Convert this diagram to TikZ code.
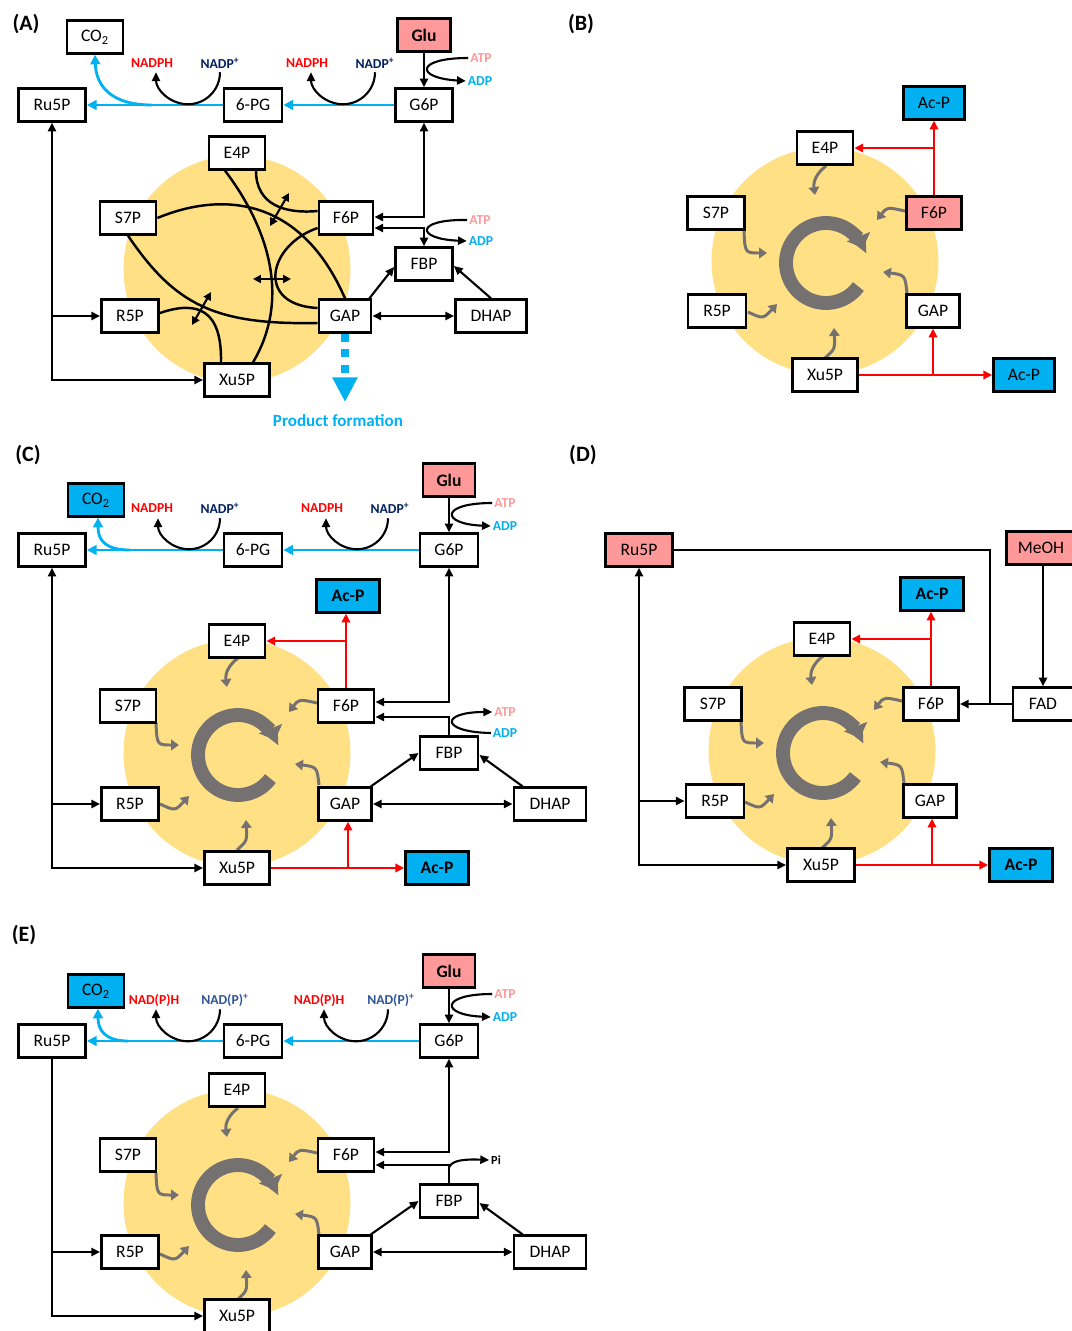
\documentclass[tikz,border=0pt]{standalone}
\usepackage{fontspec}
\setmainfont{Carlito}
\usetikzlibrary{arrows.meta, calc}

\definecolor{pinkbox}{HTML}{FF9999}
\definecolor{bluebox}{HTML}{00B0F0}
\definecolor{cycyellow}{HTML}{FFE085}
\definecolor{cycgray}{HTML}{767171}
\definecolor{navy}{HTML}{002060}
\definecolor{midblue}{HTML}{2F5597}

\tikzset{
  met/.style={draw, line width=1.6pt, fill=white, inner sep=0pt, minimum height=18.5pt,
    font=\fontsize{10}{11}\selectfont},
  bw/.style={minimum width=#1*0.02cm},
  bold/.style={font=\fontsize{10}{11}\selectfont\bfseries},
  src/.style={met, fill=pinkbox},
  prd/.style={met, fill=bluebox},
  arr/.style={-{Triangle[length=5pt,width=4.6pt]}},
  conn/.style={line width=1.2pt, arr},
  dconn/.style={line width=1.2pt, {Triangle[length=5pt,width=4.6pt]}-{Triangle[length=5pt,width=4.6pt]}},
  oxconn/.style={line width=1.6pt, bluebox, -{Triangle[length=5.5pt,width=5.5pt]}},
  rconn/.style={line width=1.3pt, red, -{Triangle[length=5pt,width=4.8pt]}},
  rx/.style={line width=1.4pt},
  dsmall/.style={line width=1.2pt, {Triangle[length=4.5pt,width=4.5pt]}-{Triangle[length=4.5pt,width=4.5pt]}},
  cof/.style={font=\fontsize{7.8}{9}\selectfont\bfseries, inner sep=1pt},
  panel/.style={font=\fontsize{12.5}{14}\selectfont\bfseries},
  prodlbl/.style={font=\fontsize{9.7}{11}\selectfont\bfseries, text=bluebox},
  prod/.style={line width=5pt, bluebox, dash pattern=on 4.5pt off 4.5pt,
    -{Triangle[length=14pt,width=13.5pt]}},
  feed/.style={line width=1.7pt, cycgray, -{Triangle[length=4.5pt,width=6pt]}},
  ring/.style={line width=7.9pt, cycgray, -{Triangle[length=7pt,width=14pt]}},
}

\begin{document}
\begin{tikzpicture}[x=0.02cm, y=-0.02cm]
\fill[white] (0,0) rectangle (1071,1331);
\useasboundingbox (0,0) rectangle (1071,1331);

% yellow cycles
\fill[cycyellow] (237,269) circle[radius=113.5];
\foreach \cx/\cy in {825/261, 237/753, 822/751, 237/1203} {
  \begin{scope}[shift={(\cx,\cy)}]
    \fill[cycyellow] (0,0) circle[radius=113.5];
    \draw[ring] (1,2) ++(36:40) arc[start angle=36, end angle=338, radius=40];
    \draw[feed] (1,-95) .. controls (-8,-88) and (-12,-80) .. (-10,-66);
    \draw[feed] (-81,-30) .. controls (-80,-8) .. (-58,-8);
    \draw[feed] (-77,51) .. controls (-62,58) .. (-48,43);
    \draw[feed] (0,97) .. controls (10,88) .. (9,67);
    \draw[feed] (82,32) .. controls (80,14) .. (58,11);
    \draw[feed] (80,-50) .. controls (62,-54) .. (52,-41);
  \end{scope}
}

% ===== Panel A =====
\node[panel] (A-lbl) at (26,24) {(A)};
\node[met, bw=56] (A-CO2) at (95,37) {CO\textsubscript{2}};
\node[src, bold, bw=53] (A-Glu) at (424,35) {Glu};
\node[met, bw=67] (A-Ru5P) at (52,105) {Ru5P};
\node[met, bw=58] (A-6PG) at (253,105) {6-PG};
\node[met, bw=57] (A-G6P) at (424,105) {G6P};
\node[met, bw=56] (A-E4P) at (237,153) {E4P};
\node[met, bw=56] (A-S7P) at (128,218) {S7P};
\node[met, bw=54] (A-F6P) at (346,218) {F6P};
\node[met, bw=57] (A-FBP) at (424,264) {FBP};
\node[met, bw=57] (A-R5P) at (130,316) {R5P};
\node[met, bw=52] (A-GAP) at (345,316) {GAP};
\node[met, bw=71] (A-DHAP) at (491,316) {DHAP};
\node[met, bw=65] (A-Xu5P) at (237,380) {Xu5P};
\node[cof, red] (A-nh1) at (152,63) {NADPH};
\node[cof, navy] (A-np1) at (220,63) {NADP\textsuperscript{+}};
\node[cof, red] (A-nh2) at (307,63) {NADPH};
\node[cof, navy] (A-np2) at (375,63) {NADP\textsuperscript{+}};
\node[cof, pinkbox] (A-atp1) at (481,58) {ATP};
\node[cof, bluebox] (A-adp1) at (480,81) {ADP};
\node[cof, pinkbox] (A-atp2) at (480,220) {ATP};
\node[cof, bluebox] (A-adp2) at (481,241) {ADP};
\node[prodlbl] (A-prod) at (338,421) {Product formation};
\coordinate (A-ox) at (152,105);
\coordinate (A-ptip) at (345,402);

% oxidative branch
\draw[oxconn] (A-G6P) -- (A-6PG);
\draw[oxconn] (A-6PG) -- (A-Ru5P);
\draw[oxconn] (A-ox) .. controls (110,105) and (96,85) .. (A-CO2.south);
\draw[conn] ($(A-np1.south)+(0,2)$) arc[start angle=0, end angle=180, radius=32];
\draw[conn] ($(A-np2.south)+(0,2)$) arc[start angle=0, end angle=180, radius=32];
\draw[conn] (A-Glu) -- (A-G6P);
\draw[conn] (A-atp1.west) .. controls (415,58) and (415,78) .. (A-adp1.west);

% glycolytic side
\draw[dconn] (A-G6P.south) |- ($(A-F6P.east)+(0,-1)$);
\draw[dconn] ($(A-F6P.east)+(0,10)$) -| (A-FBP.north);
\draw[conn] (A-atp2.west) .. controls (415,219) and (415,239) .. (A-adp2.west);
\draw[conn] ($(A-GAP.north east)+(-3,0)$) -- ($(A-FBP.west)+(0,3)$);
\draw[conn] (A-DHAP.north) -- ($(A-FBP.east)+(0,2)$);
\draw[dconn] (A-GAP) -- (A-DHAP);
\draw[dconn] (A-Ru5P.south) |- (A-Xu5P.west);
\draw[conn] (A-Ru5P.south |- A-R5P.west) -- (A-R5P.west);
\draw[prod] (A-GAP.south) -- (A-ptip);

% non-oxidative exchanges
\draw[rx] (A-S7P.east) .. controls (220,192) and (300,195) .. (A-GAP.north);
\draw[rx] (A-S7P.south) .. controls (175,305) and (215,325) .. ($(A-GAP.west)+(0,7)$);
\draw[rx] ($(A-R5P.east)+(0,-3)$) .. controls (198,300) and (222,310) .. ($(A-Xu5P.north)+(-16,0)$);
\draw[rx] ($(A-E4P.south)+(-12,0)$) .. controls (270,230) and (290,300) .. ($(A-Xu5P.north)+(16,0)$);
\draw[rx] ($(A-E4P.south)+(19,0)$) .. controls (256,205) and (285,214) .. ($(A-F6P.west)+(0,-7)$);
\draw[rx] ($(A-F6P.west)+(0,10)$) .. controls (268,245) and (255,305) .. ($(A-GAP.west)+(0,-8)$);
\draw[dsmall] (270,226) -- (289,193);
\draw[dsmall] (253,279) -- (291,279);
\draw[dsmall] (192,325) -- (211,292);

% ===== Panel B =====
\node[panel] (B-lbl) at (581,24) {(B)};
\node[prd, bw=61] (B-AcP1) at (934,103) {Ac-P};
\node[met, bw=56] (B-E4P) at (825,148) {E4P};
\node[met, bw=57] (B-S7P) at (716,213) {S7P};
\node[src, bw=55] (B-F6P) at (934,213) {F6P};
\node[met, bw=58] (B-R5P) at (717,311) {R5P};
\node[met, bw=53] (B-GAP) at (933,311) {GAP};
\node[met, bw=65] (B-Xu5P) at (825,375) {Xu5P};
\node[prd, bw=61] (B-AcP2) at (1024,375) {Ac-P};
\draw[rconn] (B-F6P) -- (B-AcP1);
\draw[rconn] (B-F6P.north |- B-E4P.east) -- (B-E4P.east);
\draw[rconn] (B-Xu5P) -- (B-AcP2);
\draw[rconn] (B-GAP.south |- B-Xu5P.east) -- (B-GAP.south);

% ===== Panel C =====
\node[panel] (C-lbl) at (28,455) {(C)};
\node[prd, bw=56] (C-CO2) at (96,500) {CO\textsubscript{2}};
\node[src, bold, bw=52] (C-Glu) at (449,480) {Glu};
\node[met, bw=67] (C-Ru5P) at (52,550) {Ru5P};
\node[met, bw=58] (C-6PG) at (253,550) {6-PG};
\node[met, bw=58] (C-G6P) at (449,550) {G6P};
\node[prd, bold, bw=63] (C-AcP1) at (348,596) {Ac-P};
\node[met, bw=56] (C-E4P) at (237,641) {E4P};
\node[met, bw=56] (C-S7P) at (128,706) {S7P};
\node[met, bw=56] (C-F6P) at (346,706) {F6P};
\node[met, bw=58] (C-FBP) at (449,753) {FBP};
\node[met, bw=57] (C-R5P) at (130,804) {R5P};
\node[met, bw=53] (C-GAP) at (345,804) {GAP};
\node[met, bw=72] (C-DHAP) at (550,804) {DHAP};
\node[met, bw=65] (C-Xu5P) at (237,868) {Xu5P};
\node[prd, bold, bw=63] (C-AcP2) at (437,868) {Ac-P};
\node[cof, red] (C-nh1) at (152,508) {NADPH};
\node[cof, navy] (C-np1) at (220,508) {NADP\textsuperscript{+}};
\node[cof, red] (C-nh2) at (322,508) {NADPH};
\node[cof, navy] (C-np2) at (390,508) {NADP\textsuperscript{+}};
\node[cof, pinkbox] (C-atp1) at (505,503) {ATP};
\node[cof, bluebox] (C-adp1) at (505,526) {ADP};
\node[cof, pinkbox] (C-atp2) at (505,712) {ATP};
\node[cof, bluebox] (C-adp2) at (505,733) {ADP};
\coordinate (C-ox) at (130,550);

\draw[oxconn] (C-G6P) -- (C-6PG);
\draw[oxconn] (C-6PG) -- (C-Ru5P);
\draw[oxconn] (C-ox) .. controls (105,550) and (98,540) .. ($(C-CO2.south)+(2,0)$);
\draw[conn] ($(C-np1.south)+(0,3)$) arc[start angle=0, end angle=180, radius=31];
\draw[conn] ($(C-np2.south)+(-2,3)$) arc[start angle=0, end angle=180, radius=31];
\draw[conn] (C-Glu) -- (C-G6P);
\draw[conn] (C-atp1.west) .. controls (440,503) and (440,524) .. (C-adp1.west);
\draw[dconn] (C-G6P.south) |- ($(C-F6P.east)+(0,-4)$);
\draw[conn] (C-FBP.north) |- ($(C-F6P.east)+(0,11)$);
\draw[conn] (C-adp2.west) .. controls (440,732) and (440,712) .. (C-atp2.west);
\draw[conn] ($(C-GAP.north east)+(-2,0)$) -- (C-FBP.west);
\draw[conn] ($(C-DHAP.north west)+(10,0)$) -- ($(C-FBP.east)+(0,2)$);
\draw[dconn] (C-GAP) -- (C-DHAP);
\draw[dconn] (C-Ru5P.south) |- (C-Xu5P.west);
\draw[conn] (C-Ru5P.south |- C-R5P.west) -- (C-R5P.west);
\draw[rconn] (C-F6P.north) -- (C-F6P.north |- C-AcP1.south);
\draw[rconn] (C-F6P.north |- C-E4P.east) -- (C-E4P.east);
\draw[rconn] (C-Xu5P) -- (C-AcP2);
\draw[rconn] ($(C-GAP.south |- C-Xu5P.east)+(3,0)$) -- ($(C-GAP.south)+(3,0)$);

% ===== Panel D =====
\node[panel] (D-lbl) at (583,455) {(D)};
\node[src, bw=67] (D-Ru5P) at (639,550) {Ru5P};
\node[src, bw=69] (D-MeOH) at (1041,548) {MeOH};
\node[met, bw=60] (D-FAD) at (1043,704) {FAD};
\node[prd, bold, bw=63] (D-AcP1) at (932,594) {Ac-P};
\node[met, bw=56] (D-E4P) at (822,639) {E4P};
\node[met, bw=57] (D-S7P) at (713,704) {S7P};
\node[met, bw=55] (D-F6P) at (931,704) {F6P};
\node[met, bw=58] (D-R5P) at (715,801) {R5P};
\node[met, bw=53] (D-GAP) at (930,801) {GAP};
\node[met, bw=67] (D-Xu5P) at (821,865) {Xu5P};
\node[prd, bold, bw=63] (D-AcP2) at (1021,865) {Ac-P};
\coordinate (D-jn) at (990,704);

\draw[line width=1.2pt] (D-Ru5P.east) -| (D-jn);
\draw[conn] (D-FAD) -- (D-F6P);
\draw[conn] (D-FAD.north |- D-MeOH.south) -- (D-FAD.north);
\draw[dconn] (D-Ru5P.south) |- (D-Xu5P.west);
\draw[conn] (D-Ru5P.south |- D-R5P.west) -- (D-R5P.west);
\draw[rconn] (D-F6P.north) -- (D-F6P.north |- D-AcP1.south);
\draw[rconn] (D-F6P.north |- D-E4P.east) -- (D-E4P.east);
\draw[rconn] (D-Xu5P) -- (D-AcP2);
\draw[rconn] ($(D-GAP.south |- D-Xu5P.east)+(2,0)$) -- ($(D-GAP.south)+(2,0)$);

% ===== Panel E =====
\node[panel] (E-lbl) at (24,935) {(E)};
\node[prd, bw=56] (E-CO2) at (96,991) {CO\textsubscript{2}};
\node[src, bold, bw=52] (E-Glu) at (449,971) {Glu};
\node[met, bw=67] (E-Ru5P) at (52,1041) {Ru5P};
\node[met, bw=58] (E-6PG) at (253,1041) {6-PG};
\node[met, bw=58] (E-G6P) at (449,1041) {G6P};
\node[met, bw=56] (E-E4P) at (237,1090) {E4P};
\node[met, bw=56] (E-S7P) at (128,1155) {S7P};
\node[met, bw=56] (E-F6P) at (346,1155) {F6P};
\node[met, bw=58] (E-FBP) at (449,1201) {FBP};
\node[met, bw=57] (E-R5P) at (130,1252) {R5P};
\node[met, bw=53] (E-GAP) at (345,1252) {GAP};
\node[met, bw=72] (E-DHAP) at (550,1252) {DHAP};
\node[met, bw=65] (E-Xu5P) at (237,1316) {Xu5P};
\node[cof, red] (E-nh1) at (154,1000) {NAD(P)H};
\node[cof, midblue] (E-np1) at (225,1000) {NAD(P)\textsuperscript{+}};
\node[cof, red] (E-nh2) at (319,1000) {NAD(P)H};
\node[cof, midblue] (E-np2) at (391,1000) {NAD(P)\textsuperscript{+}};
\node[cof, pinkbox] (E-atp1) at (505,994) {ATP};
\node[cof, bluebox] (E-adp1) at (505,1017) {ADP};
\node[cof, font=\fontsize{7}{8}\selectfont\bfseries] (E-pi) at (496,1160) {Pi};
\coordinate (E-ox) at (128,1041);

\draw[oxconn] (E-G6P) -- (E-6PG);
\draw[oxconn] (E-6PG) -- (E-Ru5P);
\draw[oxconn] (E-ox) .. controls (105,1041) and (98,1030) .. ($(E-CO2.south)+(2,0)$);
\draw[conn] ($(E-np1.south)+(-5,1)$) arc[start angle=0, end angle=180, radius=32];
\draw[conn] ($(E-np2.south)+(-3,1)$) arc[start angle=0, end angle=180, radius=32];
\draw[conn] (E-Glu) -- (E-G6P);
\draw[conn] (E-atp1.west) .. controls (440,994) and (440,1015) .. (E-adp1.west);
\draw[dconn] (E-G6P.south) |- ($(E-F6P.east)+(0,-3)$);
\draw[conn] (E-FBP.north) |- ($(E-F6P.east)+(0,10)$);
\draw[conn] ($(E-FBP.north)+(0,-16)$) .. controls (452,1160) and (465,1159) .. (E-pi.west);
\draw[conn] ($(E-GAP.north east)+(-2,0)$) -- (E-FBP.west);
\draw[conn] ($(E-DHAP.north west)+(10,0)$) -- ($(E-FBP.east)+(0,2)$);
\draw[dconn] (E-GAP) -- (E-DHAP);
\draw[conn] (E-Ru5P.south) |- (E-Xu5P.west);
\draw[conn] (E-Ru5P.south |- E-R5P.west) -- (E-R5P.west);
\end{tikzpicture}
\end{document}
